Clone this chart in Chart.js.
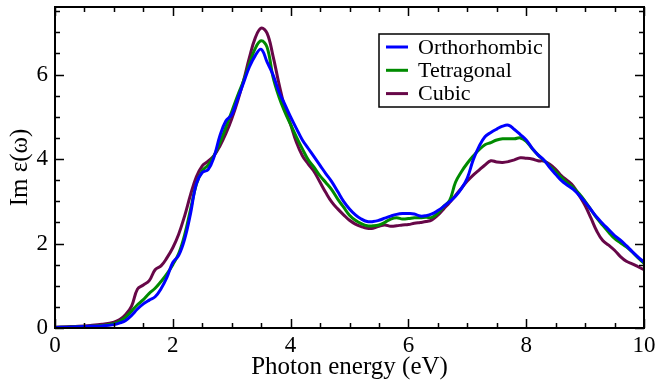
<!DOCTYPE html>
<html lang="en">
<head>
    <meta charset="UTF-8">
    <title>Im eps spectrum</title>
    <script src="https://cdn.jsdelivr.net/npm/chart.js"></script>
    <style>
        body {
            margin: 0;
            padding: 0;
            background: #ffffff;
        }
        #wrap {
            width: 656px;
            height: 386px;
        }
    </style>
</head>
<body>
    <div id="wrap">
        <canvas id="epsChart" width="656" height="386"></canvas>
    </div>

    <script>
        // photon energy grid (eV)
        const energy = [0, 0.2, 0.4, 0.6, 0.8, 1.0,
            1.1, 1.2, 1.3, 1.4, 1.5, 1.6, 1.7, 1.8, 1.9, 2.0,
            2.1, 2.2, 2.3, 2.4, 2.5, 2.6, 2.7, 2.8, 2.9, 3.0,
            3.1, 3.2, 3.3, 3.4, 3.5, 3.6, 3.7, 3.8, 3.9, 4.0,
            4.1, 4.2, 4.3, 4.4, 4.5, 4.6, 4.7, 4.8, 4.9, 5.0,
            5.1, 5.2, 5.3, 5.4, 5.5, 5.6, 5.7, 5.8, 5.9, 6.0,
            6.1, 6.2, 6.3, 6.4, 6.5, 6.6, 6.7, 6.8, 6.9, 7.0,
            7.1, 7.2, 7.3, 7.4, 7.5, 7.6, 7.7, 7.8, 7.9, 8.0,
            8.1, 8.2, 8.3, 8.4, 8.5, 8.6, 8.7, 8.8, 8.9, 9.0,
            9.1, 9.2, 9.3, 9.4, 9.5, 9.6, 9.7, 9.8, 9.9, 10.0];

        const orthorhombic = [0.01, 0.02, 0.03, 0.04, 0.05, 0.08,
            0.12, 0.18, 0.30, 0.45, 0.57, 0.66, 0.74, 0.93, 1.20, 1.55,
            1.72, 2.10, 2.70, 3.42, 3.68, 3.75, 4.05, 4.55, 4.90, 5.05,
            5.42, 5.80, 6.18, 6.45, 6.60, 6.30, 6.00, 5.60, 5.30, 5.00,
            4.72, 4.45, 4.25, 4.05, 3.85, 3.65, 3.46, 3.23, 3.00, 2.82,
            2.68, 2.58, 2.52, 2.52, 2.55, 2.60, 2.65, 2.69, 2.71, 2.71,
            2.70, 2.65, 2.66, 2.70, 2.78, 2.88, 2.99, 3.12, 3.30, 3.55,
            3.98, 4.30, 4.53, 4.63, 4.71, 4.78, 4.80, 4.70, 4.58, 4.45,
            4.26, 4.10, 3.98, 3.80, 3.64, 3.49, 3.38, 3.28, 3.14, 2.98,
            2.80, 2.62, 2.47, 2.33, 2.19, 2.08, 1.95, 1.81, 1.68, 1.56];

        const tetragonal = [0.01, 0.02, 0.03, 0.04, 0.06, 0.10,
            0.16, 0.26, 0.40, 0.55, 0.67, 0.82, 0.94, 1.10, 1.28, 1.50,
            1.76, 2.20, 2.80, 3.40, 3.72, 3.86, 4.08, 4.39, 4.75, 5.12,
            5.50, 5.85, 6.25, 6.62, 6.80, 6.65, 5.95, 5.48, 5.12, 4.82,
            4.52, 4.24, 3.98, 3.80, 3.60, 3.44, 3.27, 3.05, 2.86, 2.67,
            2.55, 2.47, 2.42, 2.42, 2.44, 2.50, 2.58, 2.61, 2.58, 2.59,
            2.61, 2.61, 2.62, 2.62, 2.72, 2.88, 3.02, 3.45, 3.70, 3.90,
            4.07, 4.22, 4.34, 4.39, 4.45, 4.48, 4.48, 4.48, 4.50, 4.42,
            4.25, 4.10, 3.97, 3.83, 3.70, 3.56, 3.43, 3.32, 3.18, 3.00,
            2.80, 2.60, 2.43, 2.27, 2.12, 2.02, 1.92, 1.80, 1.66, 1.53];

        const cubic = [0.02, 0.03, 0.04, 0.06, 0.09, 0.14,
            0.20, 0.32, 0.52, 0.92, 1.02, 1.12, 1.38, 1.47, 1.66, 1.90,
            2.22, 2.65, 3.15, 3.58, 3.84, 3.95, 4.08, 4.31, 4.60, 4.95,
            5.37, 5.85, 6.40, 6.87, 7.10, 6.98, 6.45, 5.80, 5.22, 4.82,
            4.39, 4.08, 3.88, 3.70, 3.45, 3.20, 2.98, 2.82, 2.68, 2.55,
            2.46, 2.40, 2.36, 2.36, 2.41, 2.44, 2.41, 2.42, 2.44, 2.45,
            2.48, 2.50, 2.52, 2.56, 2.67, 2.82, 2.97, 3.14, 3.31, 3.48,
            3.62, 3.74, 3.86, 3.96, 3.93, 3.92, 3.94, 3.98, 4.03, 4.02,
            4.00, 3.96, 3.95, 3.88, 3.76, 3.60, 3.49, 3.36, 3.14, 2.90,
            2.60, 2.29, 2.07, 1.96, 1.84, 1.69, 1.58, 1.52, 1.45, 1.38];

        const seriesNames = ['Orthorhombic', 'Tetragonal', 'Cubic'];
        const seriesColors = ['#0000ff', '#008b00', '#670748'];
        const xTicks = [0, 2, 4, 6, 8, 10];
        const yTicks = [0, 2, 4, 6];

        const serif = "'Liberation Serif', 'DejaVu Serif', serif";

        const toPoints = (ys) => energy.map((e, i) => ({ x: e, y: ys[i] }));

        // xmgrace style frame with inward ticks on all four sides + inset legend
        const gracePlugin = {
            id: 'grace',
            afterDatasetsDraw(chart) {
                const c = chart.ctx;
                const a = chart.chartArea;
                const xs = chart.scales.x;
                const ys = chart.scales.y;
                c.save();
                c.strokeStyle = '#000';
                c.lineWidth = 1.5;
                c.beginPath();
                for (let v = 0; v <= 10.001; v += 0.5) {
                    const px = Math.round(xs.getPixelForValue(v)) + 0.5;
                    const len = Math.abs(v % 2) < 0.01 ? 9 : 5;
                    c.moveTo(px, a.bottom); c.lineTo(px, a.bottom - len);
                    c.moveTo(px, a.top); c.lineTo(px, a.top + len);
                }
                for (let v = 0; v <= 7.6; v += 0.5) {
                    const py = Math.round(ys.getPixelForValue(v)) + 0.5;
                    const len = Math.abs(v % 2) < 0.01 ? 9 : 5;
                    c.moveTo(a.left, py); c.lineTo(a.left + len, py);
                    c.moveTo(a.right, py); c.lineTo(a.right - len, py);
                }
                c.stroke();
                c.lineWidth = 2;
                c.strokeRect(a.left, a.top, a.right - a.left, a.bottom - a.top);

                // legend box
                const lx = 379, ly = 34, lw = 170, lh = 73;
                c.fillStyle = '#fff';
                c.fillRect(lx, ly, lw, lh);
                c.lineWidth = 1.5;
                c.strokeRect(lx, ly, lw, lh);
                c.font = '22px ' + serif;
                c.textBaseline = 'middle';
                seriesNames.forEach((name, i) => {
                    const yy = 47 + i * 23.3;
                    c.strokeStyle = seriesColors[i];
                    c.lineWidth = 3;
                    c.beginPath();
                    c.moveTo(386, yy); c.lineTo(408, yy);
                    c.stroke();
                    c.fillStyle = '#000';
                    c.fillText(name, 418, yy + 1);
                });
                c.restore();
            }
        };

        const chart = new Chart(document.getElementById('epsChart'), {
            type: 'scatter',
            data: {
                datasets: seriesNames.map((name, i) => ({
                    label: name,
                    data: toPoints([orthorhombic, tetragonal, cubic][i]),
                    showLine: true,
                    borderColor: seriesColors[i],
                    backgroundColor: seriesColors[i],
                    borderWidth: 3,
                    pointRadius: 0,
                    tension: 0.4,
                    fill: false
                }))
            },
            options: {
                responsive: false,
                animation: false,
                layout: { padding: { top: 7, right: 12, left: 0, bottom: 0 } },
                plugins: {
                    legend: { display: false },
                    tooltip: { enabled: false }
                },
                scales: {
                    x: {
                        type: 'linear',
                        min: 0,
                        max: 10,
                        afterBuildTicks: (s) => { s.ticks = xTicks.map(v => ({ value: v })); },
                        afterFit: (s) => {
                            s.height = 58;
                            s.paddingLeft = 0; s.paddingRight = 0;
                            s.paddingTop = 0; s.paddingBottom = 0;
                        },
                        grid: { display: false, drawTicks: false },
                        border: { display: false },
                        ticks: {
                            color: '#000',
                            padding: 4,
                            maxRotation: 0,
                            font: { family: serif, size: 23 }
                        },
                        title: {
                            display: true,
                            text: 'Photon energy (eV)',
                            color: '#000',
                            padding: { top: 0, bottom: 4 },
                            font: { family: serif, size: 25 }
                        }
                    },
                    y: {
                        type: 'linear',
                        min: 0,
                        max: 7.6,
                        afterBuildTicks: (s) => { s.ticks = yTicks.map(v => ({ value: v })); },
                        afterFit: (s) => {
                            s.width = 55;
                            s.paddingLeft = 0; s.paddingRight = 0;
                            s.paddingTop = 0; s.paddingBottom = 0;
                        },
                        grid: { display: false, drawTicks: false },
                        border: { display: false },
                        ticks: {
                            color: '#000',
                            padding: 7,
                            font: { family: serif, size: 23 }
                        },
                        title: {
                            display: true,
                            text: 'Im ε(ω)',
                            color: '#000',
                            padding: { top: 5, bottom: 0 },
                            font: { family: serif, size: 25 }
                        }
                    }
                }
            },
            plugins: [gracePlugin]
        });
    </script>
</body>
</html>
